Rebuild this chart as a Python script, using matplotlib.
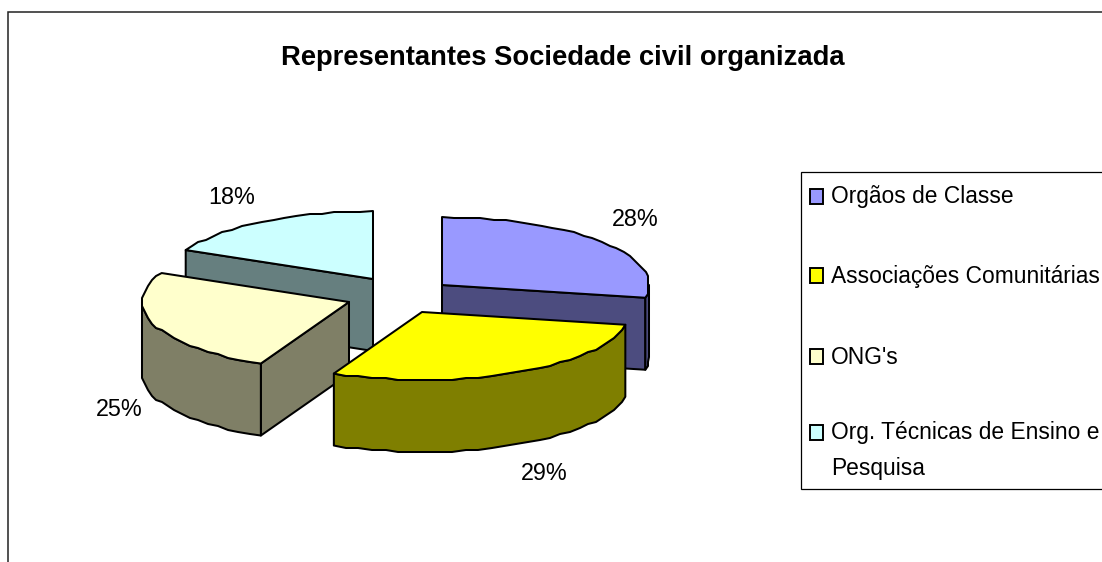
import numpy as np
import matplotlib
matplotlib.use("Agg")
import matplotlib.pyplot as plt
from matplotlib.patches import Polygon, Rectangle

title = "Representantes Sociedade civil organizada"
categories = ["Orgãos de Classe", "Associações Comunitárias", "ONG's",
              "Org. Técnicas de Ensino e\nPesquisa"]
values = [28, 29, 25, 18]
top_colors = ["#9999FF", "#FFFF00", "#FFFFCC", "#CCFFFF"]
side_colors = ["#4C4C7F", "#7F7F00", "#7F7F66", "#667F7F"]

# exploded slice apexes and ellipse geometry, in pixels
apex = [(442, 285), (422, 312), (349, 302), (373, 279)]
RX, RY, DEPTH = 207, 68, 72
label_pos = [(635, 219), (544, 473), (119, 408), (232, 197)]
legend_rows = [196, 275, 356, 432]

plt.rcParams["font.family"] = ["Liberation Sans", "DejaVu Sans"]
fig = plt.figure(figsize=(11.02, 5.62), dpi=100)
ax = fig.add_axes([0, 0, 1, 1])
ax.set_xlim(0, 1102)
ax.set_ylim(562, 0)
ax.axis("off")


def pt(c, deg):
    r = np.radians(deg)
    return c[0] + RX * np.sin(r), c[1] - RY * np.cos(r)


def arc(c, a, b, step=3.6):
    n = max(2, int(abs(b - a) / step) + 1)
    pts = [pt(c, d) for d in np.linspace(a, b, n)]
    out = [pts[0]] + [(round(x / 2) * 2, round(y / 2) * 2) for x, y in pts[1:-1]] + [pts[-1]]
    return out


def shift(pts):
    return [(x, y + DEPTH) for x, y in pts]


def poly(pts, color, z):
    ax.add_patch(Polygon(pts, closed=True, facecolor=color, edgecolor="black",
                         lw=1.45, joinstyle="round", zorder=z))


# cumulative slice angles, clockwise from 12 o'clock
edges = np.concatenate([[0], np.cumsum(values)]) / sum(values) * 360
# which cut face of each slice looks towards the viewer: end, end, start, start
cut_side = [1, 1, 0, 0]
for z, i in enumerate([3, 0, 2, 1]):
    a, b, c = edges[i], edges[i + 1], apex[i]
    z0 = 5 + z * 3
    if i != 1:
        p = pt(c, (a, b)[cut_side[i]])
        poly([c, p, (p[0], p[1] + DEPTH), (c[0], c[1] + DEPTH)], side_colors[i], z0)
    # outer wall
    w0, w1 = max(a, 90), min(b, 270)
    if w1 > w0:
        top = arc(c, w0, w1)
        poly(top + shift(top)[::-1], side_colors[i], z0 + 1)
    # top face
    poly([c] + arc(c, a, b), top_colors[i], z0 + 2)

for v, (x, y) in zip(values, label_pos):
    ax.text(x, y + 1, f"{v}%", ha="center", va="center", fontsize=16.8, color="black", zorder=30)

ax.text(563, 58, title, ha="center", va="center", fontsize=19.7, fontweight="bold", zorder=30)

# outer frame (cropped at right and bottom)
ax.plot([8, 8, 1102], [562, 12, 12], color="#222222", lw=1.1, zorder=1, solid_joinstyle="miter")
# legend box
ax.plot([1102, 801, 801, 1102], [172, 172, 489, 489], color="black", lw=0.9, zorder=20,
        solid_joinstyle="miter")
for name, y, col in zip(categories, legend_rows, top_colors):
    ax.add_patch(Rectangle((810, y - 7), 13, 15, facecolor=col, edgecolor="black", lw=1.4, zorder=21))
    first, *rest = name.split("\n")
    ax.text(831, y + 1, first, ha="left", va="center", fontsize=16.4, zorder=21)
    if rest:
        ax.text(831, y + 36, rest[0], ha="left", va="center", fontsize=16.4, zorder=21)

fig.savefig("out.png", dpi=100, facecolor="white")
